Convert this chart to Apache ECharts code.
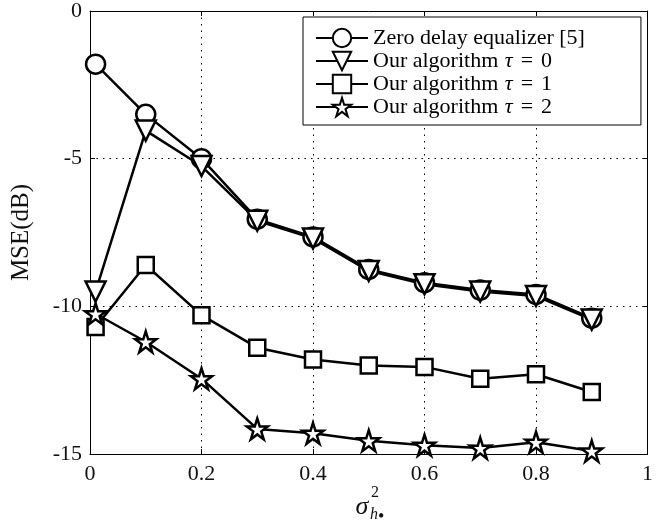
<!DOCTYPE html>
<html>
<head>
<meta charset="utf-8">
<script src="https://cdn.jsdelivr.net/npm/echarts@6/dist/echarts.min.js"></script>
<style>
    html, body { margin: 0; padding: 0; background: #fff; }
    #chart { width: 656px; height: 521px; }
</style>
</head>
<body>
<div id="chart"></div>
<script>
    /*MSE vs channel variance*/

    var xValues = [0.01, 0.1, 0.2, 0.3, 0.4, 0.5, 0.6, 0.7, 0.8, 0.9];

    var zeroDelay = [-1.8, -3.5, -5.0, -7.05, -7.65, -8.75, -9.2, -9.45, -9.6, -10.4];
    var tau0 = [-9.5, -4.05, -5.25, -7.1, -7.7, -8.8, -9.25, -9.5, -9.65, -10.45];
    var tau1 = [-10.7, -8.6, -10.3, -11.4, -11.8, -12.0, -12.05, -12.45, -12.3, -12.9];
    var tau2 = [-10.25, -11.2, -12.45, -14.15, -14.3, -14.55, -14.7, -14.8, -14.6, -14.9];

    var seriesNames = ['Zero delay equalizer [5]', 'Our algorithm τ = 0', 'Our algorithm τ = 1', 'Our algorithm τ = 2'];

    var xTicks = { min: 0, max: 1, interval: 0.2 };
    var yTicks = { min: -15, max: 0, interval: 5 };

    var FONT = '"Liberation Serif", "DejaVu Serif", serif';
    var STAR = 'path://M50,0L61.17,34.63L97.55,34.55L68.07,55.87L79.39,90.45L50,69L20.61,90.45L31.93,55.87L2.45,34.55L38.83,34.63Z';

    function pairs(ys) {
        var out = [];
        for (var i = 0; i < xValues.length; i++) {
            out.push([xValues[i], ys[i]]);
        }
        return out;
    }

    function makeSeries(name, ys, symbol, size, rotate) {
        return {
            name: name,
            type: 'line',
            data: pairs(ys),
            symbol: symbol,
            symbolSize: size,
            symbolRotate: rotate || 0,
            showAllSymbol: true,
            animation: false,
            lineStyle: { color: '#000', width: 2.5 },
            itemStyle: { color: '#fff', borderColor: '#000', borderWidth: 2.5 },
            emphasis: { disabled: true }
        };
    }

    var chart = echarts.init(document.getElementById('chart'));

    var option = {
        backgroundColor: '#fff',
        animation: false,
        grid: {
            left: 90,
            right: 3,
            top: 9,
            bottom: 67
        },
        legend: {
            left: 303,
            top: 17,
            orient: 'vertical',
            data: seriesNames,
            itemWidth: 52,
            itemHeight: 23,
            itemGap: 1,
            padding: [10, 56, 7, 12],
            backgroundColor: '#fff',
            borderColor: '#000',
            borderWidth: 1,
            borderRadius: 0,
            formatter: function (name) {
                return name.replace('τ = ', '{i|τ}{e|=}');
            },
            textStyle: {
                fontFamily: FONT,
                fontSize: 22,
                color: '#000',
                rich: {
                    i: { fontFamily: FONT, fontSize: 22, fontStyle: 'italic', color: '#000', padding: [0, 0, 0, 1] },
                    e: { fontFamily: FONT, fontSize: 22, color: '#000', padding: [0, 8, 0, 8] }
                }
            }
        },
        xAxis: [{
            type: 'value',
            min: xTicks.min,
            max: xTicks.max,
            interval: xTicks.interval,
            axisLine: { show: true, onZero: false, lineStyle: { color: '#000', width: 1 } },
            axisTick: { show: true, inside: true, length: 5, lineStyle: { color: '#000' } },
            axisLabel: { margin: 9, fontFamily: FONT, fontSize: 22, color: '#111', alignMaxLabel: 'center', hideOverlap: false },
            splitLine: { show: true, lineStyle: { color: '#000', type: [1.5, 5], width: 1 } }
        }, {
            type: 'value',
            position: 'top',
            min: xTicks.min,
            max: xTicks.max,
            interval: xTicks.interval,
            axisLine: { show: true, onZero: false, lineStyle: { color: '#000', width: 1 } },
            axisTick: { show: true, inside: true, length: 5, lineStyle: { color: '#000' } },
            axisLabel: { show: false },
            splitLine: { show: false }
        }],
        yAxis: [{
            type: 'value',
            min: yTicks.min,
            max: yTicks.max,
            interval: yTicks.interval,
            name: 'MSE(dB)',
            nameLocation: 'middle',
            nameGap: 56,
            nameTextStyle: { fontFamily: FONT, fontSize: 25, color: '#111' },
            axisLine: { show: true, onZero: false, lineStyle: { color: '#000', width: 1 } },
            axisTick: { show: true, inside: true, length: 5, lineStyle: { color: '#000' } },
            axisLabel: { margin: 8, fontFamily: FONT, fontSize: 22, color: '#111' },
            splitLine: { show: true, lineStyle: { color: '#000', type: [1.5, 5], width: 1 } }
        }, {
            type: 'value',
            position: 'right',
            min: yTicks.min,
            max: yTicks.max,
            interval: yTicks.interval,
            axisLine: { show: true, onZero: false, lineStyle: { color: '#000', width: 1 } },
            axisTick: { show: true, inside: true, length: 5, lineStyle: { color: '#000' } },
            axisLabel: { show: false },
            splitLine: { show: false }
        }],
        graphic: [
            { type: 'text', x: 362, y: 507, style: { text: 'σ', font: 'italic 26px ' + FONT, fill: '#111', align: 'center', verticalAlign: 'middle' } },
            { type: 'text', x: 371, y: 493, style: { text: '2', font: '16px ' + FONT, fill: '#111', align: 'left', verticalAlign: 'middle' } },
            { type: 'text', x: 370, y: 515, style: { text: 'h', font: 'italic 16px ' + FONT, fill: '#111', align: 'left', verticalAlign: 'middle' } },
            { type: 'text', x: 378, y: 517, style: { text: '•', font: '18px ' + FONT, fill: '#111', align: 'left', verticalAlign: 'middle' } }
        ],
        series: [
            makeSeries(seriesNames[0], zeroDelay, 'circle', 19),
            makeSeries(seriesNames[1], tau0, 'triangle', 20, 180),
            makeSeries(seriesNames[2], tau1, 'rect', 16),
            makeSeries(seriesNames[3], tau2, STAR, 21)
        ]
    };

    chart.setOption(option);
</script>
</body>
</html>
